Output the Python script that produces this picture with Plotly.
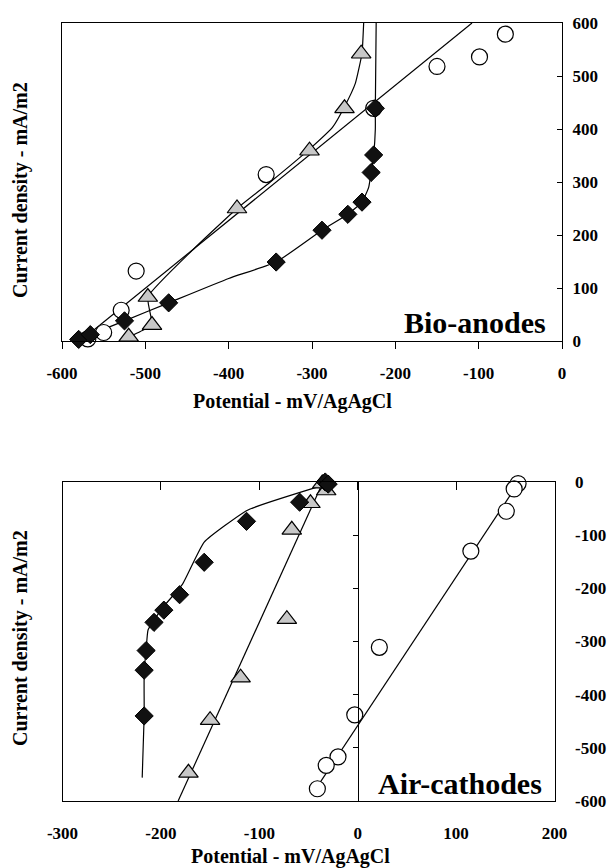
import plotly.graph_objects as go

# ---------------- Bio-anodes (top panel) ----------------
anode_diamond_x = [-580, -566, -525, -472, -343, -288, -257, -240, -229, -226, -224]
anode_diamond_y = [3, 12, 38, 72, 149, 209, 239, 262, 318, 351, 439]
anode_diamond_fit_x = [-580, -566, -525, -472, -400, -343, -288, -257, -240, -232, -229, -226, -224, -224, -223]
anode_diamond_fit_y = [3, 12, 38, 72, 118, 149, 209, 239, 262, 290, 318, 351, 400, 439, 600]

anode_triangle_x = [-241, -261, -303, -390, -497, -492, -520, -524]
anode_triangle_y = [542, 439, 359, 250, 83, 30, 8, -6]
anode_triangle_fit_x = [-238, -240, -248, -261, -275, -303, -350, -390, -443, -497, -492, -506, -520]
anode_triangle_fit_y = [600, 543, 486, 442, 404, 362, 300, 250, 172, 83, 30, 18, 7]

anode_circle_x = [-68, -99, -150, -226, -355, -511, -529, -550, -569]
anode_circle_y = [579, 536, 518, 439, 314, 132, 58, 16, 4]
anode_circle_fit_x = [-578, -108]
anode_circle_fit_y = [0, 600]

# ---------------- Air-cathodes (bottom panel) ----------------
cath_diamond_x = [-33, -30, -59, -113, -156, -181, -197, -207, -215, -217, -217]
cath_diamond_y = [0, -4, -38, -74, -151, -212, -241, -264, -317, -354, -440]
cath_diamond_fit_x = [-219, -217, -217, -215, -213, -198, -178, -156, -112, -33]
cath_diamond_fit_y = [-556, -440, -354, -317, -278, -236, -192, -113, -53, -5]

cath_triangle_x = [-36, -32, -48, -67, -72, -119, -150, -172]
cath_triangle_y = [-3, -16, -40, -90, -258, -368, -448, -547]
cath_triangle_fit_x = [-182.5, -34.5]
cath_triangle_fit_y = [-600, 3]

cath_circle_x = [163, 159, 151, 115, 22, -3, -20, -32, -41]
cath_circle_y = [-3, -13, -55, -130, -311, -438, -517, -533, -577]
cath_circle_fit_x = [-40, 165]
cath_circle_fit_y = [-570, 3]

top_xticks = [-600, -500, -400, -300, -200, -100, 0]
top_yticks = [0, 100, 200, 300, 400, 500, 600]
bot_xticks = [-300, -200, -100, 0, 100, 200]
bot_yticks = [0, -100, -200, -300, -400, -500, -600]

W, H = 608, 868
FONT = "Liberation Serif"
LINE = dict(color="black", width=1.2)
GRAY = "#c8c8c8"

fig = go.Figure()

def add_panel(xa, ya, fits, circles, triangles, diamonds):
    for fx, fy in fits:
        fig.add_trace(go.Scatter(x=fx, y=fy, mode="lines", line=LINE,
                                 line_shape="spline", line_smoothing=0.4,
                                 xaxis=xa, yaxis=ya, showlegend=False, hoverinfo="skip"))
    cx, cy = circles
    fig.add_trace(go.Scatter(x=cx, y=cy, mode="markers", xaxis=xa, yaxis=ya, cliponaxis=False,
                             marker=dict(symbol="circle", size=16, color="white",
                                         line=dict(color="black", width=1.2)), showlegend=False))
    tx, ty = triangles
    fig.add_trace(go.Scatter(x=tx, y=ty, mode="markers", xaxis=xa, yaxis=ya, cliponaxis=False,
                             marker=dict(symbol="triangle-up", size=17, color=GRAY,
                                         line=dict(color="black", width=1.2)), showlegend=False))
    dx, dy = diamonds
    fig.add_trace(go.Scatter(x=dx, y=dy, mode="markers", xaxis=xa, yaxis=ya, cliponaxis=False,
                             marker=dict(symbol="diamond", size=14, color="#111111",
                                         line=dict(color="black", width=1)), showlegend=False))

add_panel("x", "y",
          [(anode_diamond_fit_x, anode_diamond_fit_y),
           (anode_triangle_fit_x, anode_triangle_fit_y),
           (anode_circle_fit_x, anode_circle_fit_y)],
          (anode_circle_x, anode_circle_y),
          (anode_triangle_x, anode_triangle_y),
          (anode_diamond_x, anode_diamond_y))

add_panel("x2", "y2",
          [(cath_diamond_fit_x, cath_diamond_fit_y),
           (cath_triangle_fit_x, cath_triangle_fit_y),
           (cath_circle_fit_x, cath_circle_fit_y)],
          (cath_circle_x, cath_circle_y),
          (cath_triangle_x, cath_triangle_y),
          (cath_diamond_x, cath_diamond_y))

tickfont = dict(family=FONT, size=17, color="black", weight=700)
base = dict(showgrid=False, zeroline=False, showline=True, linecolor="black", linewidth=1.2,
            tickfont=tickfont, tickcolor="black", tickwidth=1.2)

def txt(vals):
    return [str(v) for v in vals]

fig.update_layout(
    width=W, height=H,
    margin=dict(l=0, r=0, t=0, b=0, autoexpand=False),
    paper_bgcolor="white", plot_bgcolor="white",
    xaxis=dict(**base, domain=[62 / W, 562 / W], range=[-600, 0], anchor="y",
               tickvals=top_xticks, ticktext=txt(top_xticks), ticks="outside", ticklen=7,
               mirror=True, ticklabelstandoff=9),
    yaxis=dict(**base, domain=[1 - 341 / H, 1 - 23 / H], range=[0, 600], anchor="x",
               side="right", tickvals=top_yticks, ticktext=txt(top_yticks), ticks="inside",
               ticklen=5, mirror=True, ticklabelstandoff=6),
    xaxis2=dict(**base, domain=[62.5 / W, 554.5 / W], range=[-300, 200], anchor="y2",
                tickvals=bot_xticks, ticktext=txt(bot_xticks), ticks="", mirror=True,
                ticklabelstandoff=16),
    xaxis3=dict(showgrid=False, zeroline=False, showline=False, overlaying="x2", anchor="y2",
                side="top", range=[-300, 200], tickvals=bot_xticks, ticks="inside",
                ticklen=8, tickcolor="black", tickwidth=1.2, showticklabels=False),
    yaxis2=dict(**base, domain=[1 - 801 / H, 1 - 482 / H], range=[-600, 0], anchor="x2",
                side="right", tickvals=bot_yticks, ticktext=txt(bot_yticks), ticks="",
                mirror=True, ticklabelstandoff=16),
    yaxis3=dict(showgrid=False, zeroline=False, showline=True, linecolor="black", linewidth=1.2,
                overlaying="y2", anchor="free", position=357.7 / W, side="right",
                range=[-600, 0], tickvals=bot_yticks, ticks="inside", ticklen=5,
                tickcolor="black", tickwidth=1.2, showticklabels=False),
)

fig.add_trace(go.Scatter(x=[None], y=[None], xaxis="x3", yaxis="y3", showlegend=False,
                         hoverinfo="skip"))

titlefont = dict(family=FONT, size=20, color="black", weight=700)
labelfont = dict(family=FONT, size=30, color="black", weight=700)
ann = [
    dict(text="Potential - mV/AgAgCl", x=292 / W, y=1 - 402 / H, font=titlefont),
    dict(text="Potential - mV/AgAgCl", x=290 / W, y=1 - 856 / H, font=titlefont),
    dict(text="Current density - mA/m2", x=20 / W, y=1 - 190 / H, font=titlefont, textangle=-90),
    dict(text="Current density - mA/m2", x=20 / W, y=1 - 638 / H, font=titlefont, textangle=-90),
    dict(text="Bio-anodes", x=548 / W, y=1 - 322 / H, font=labelfont, xanchor="right"),
    dict(text="Air-cathodes", x=544 / W, y=1 - 783 / H, font=labelfont, xanchor="right"),
]
for a in ann:
    a.setdefault("xanchor", "center")
    fig.add_annotation(xref="paper", yref="paper", showarrow=False, yanchor="middle", **a)

fig.write_html("out.html", config={"displayModeBar": False},
               post_script="document.body.style.margin='0';document.body.style.overflow='hidden';")
